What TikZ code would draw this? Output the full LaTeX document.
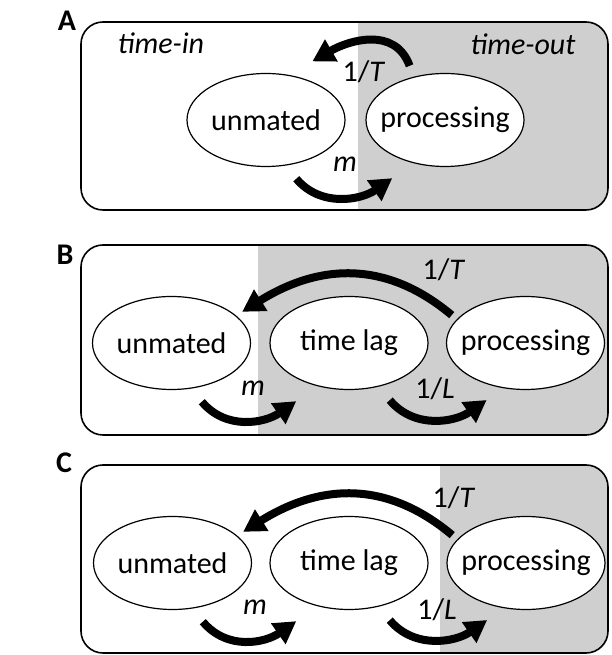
\documentclass[tikz,border=0pt]{standalone}
\usepackage{fontspec}
\setmainfont{Carlito}
\usepackage{tikz}
\usetikzlibrary{arrows.meta,shapes.geometric}

\begin{document}
\begin{tikzpicture}[x=1pt,y=1pt,
    font=\fontsize{30}{36}\selectfont,
    state/.style={draw,ellipse,line width=1.2pt,fill=white,
      minimum width=158pt,minimum height=93pt,inner sep=0pt,
      label={[anchor=base]center:#1}},
    flow/.style={line width=8pt,-{Triangle[length=22pt,width=24pt]}},
    rate/.style={inner sep=0pt},
    panel/.style={inner sep=0pt,font=\fontsize{30}{36}\selectfont\bfseries},
    frame/.style={line width=1.6pt,rounded corners=22pt}]
  \useasboundingbox (0,0) rectangle (611,655);
  % panel A
  \begin{scope}
    \clip[rounded corners=22pt] (81,445) rectangle (608,633);
    \fill[black!19] (358,445) rectangle (608,633);
  \end{scope}
  \draw[frame] (81,445) rectangle (608,633);
  \node[panel] (A) at (67,634) {A};
  \node (inA) at (161,612) {\textit{time-in}};
  \node (outA) at (523,611) {\textit{time-out}};
  \node[state=unmated] (uA) at (266,535) {};
  \node[state=processing] (pA) at (445,535) {};
  \draw[flow,shorten <=11.6pt,shorten >=27pt] (pA.126) .. controls +(110:54) and +(30:69) .. (uA.63);
  \draw[flow,shorten <=17pt,shorten >=26pt] (uA.-67) .. controls +(-50:55) and +(215:64) .. (pA.-126);
  \node[rate] (tA) at (364,583) {1/\textit{T}};
  \node[rate] (mA) at (345,491) {\textit{m}};
  % panel B
  \begin{scope}
    \clip[rounded corners=22pt] (81,220) rectangle (608,410);
    \fill[black!19] (258,220) rectangle (608,410);
  \end{scope}
  \draw[frame] (81,220) rectangle (608,410);
  \node[panel] (B) at (65,400) {B};
  \node[state=unmated] (uB) at (171.5,312) {};
  \node[state=time lag] (lB) at (349,312) {};
  \node[state=processing] (pB) at (525.5,312) {};
  \draw[flow,shorten <=6.5pt,shorten >=7pt] (pB.161) .. controls +(140:95) and +(32:95) .. (uB.23);
  \draw[flow,shorten <=17pt,shorten >=26pt] (uB.-67) .. controls +(-50:55) and +(215:64) .. (lB.-126);
  \draw[flow,shorten <=17.5pt,shorten >=20.5pt] (lB.-56) .. controls +(-50:56) and +(215:59) .. (pB.-116);
  \node[rate] (tB) at (444,385) {1/\textit{T}};
  \node[rate] (mB) at (253,267) {\textit{m}};
  \node[rate] (lagB) at (435,266) {1/\textit{L}};
  % panel C
  \begin{scope}
    \clip[rounded corners=22pt] (81,2) rectangle (608,190);
    \fill[black!19] (440,2) rectangle (608,190);
  \end{scope}
  \draw[frame] (81,2) rectangle (608,190);
  \node[panel] (C) at (64,192) {C};
  \node[state=unmated] (uC) at (172.5,92) {};
  \node[state=time lag] (lC) at (349,92) {};
  \node[state=processing] (pC) at (526,92) {};
  \draw[flow,shorten <=6.5pt,shorten >=7pt] (pC.161) .. controls +(140:95) and +(32:95) .. (uC.23);
  \draw[flow,shorten <=17pt,shorten >=26pt] (uC.-67) .. controls +(-50:55) and +(215:64) .. (lC.-126);
  \draw[flow,shorten <=17.5pt,shorten >=20.5pt] (lC.-56) .. controls +(-50:56) and +(215:59) .. (pC.-116);
  \node[rate] (tC) at (454,157.5) {1/\textit{T}};
  \node[rate] (mC) at (255,48) {\textit{m}};
  \node[rate] (lagC) at (437,45) {1/\textit{L}};
\end{tikzpicture}
\end{document}
